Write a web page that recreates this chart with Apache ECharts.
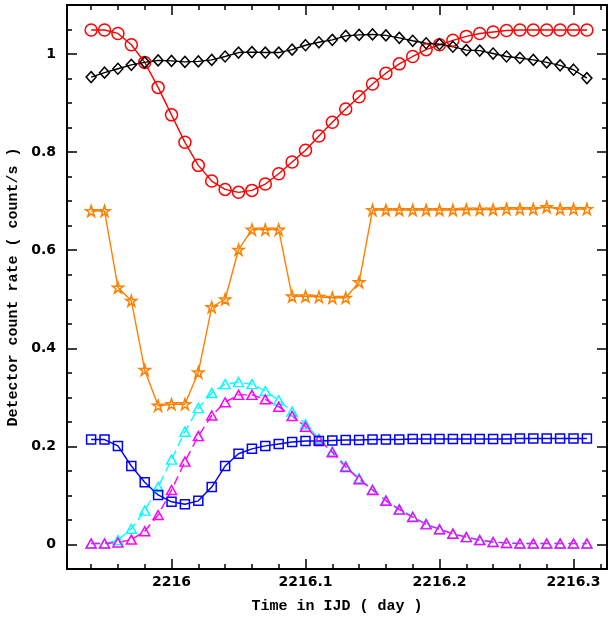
<!DOCTYPE html>
<html>
<head>
<meta charset="utf-8">
<script src="https://cdn.jsdelivr.net/npm/echarts@6/dist/echarts.min.js"></script>
<style>
  html, body { margin: 0; padding: 0; background: #fff; }
  #chart { width: 610px; height: 621px; }
</style>
</head>
<body>
<div id="chart"></div>
<script>
// time axis (IJD), one point every 0.01 day
var times = [2215.94, 2215.95, 2215.96, 2215.97, 2215.98, 2215.99, 2216.00, 2216.01, 2216.02, 2216.03,
             2216.04, 2216.05, 2216.06, 2216.07, 2216.08, 2216.09, 2216.10, 2216.11, 2216.12, 2216.13,
             2216.14, 2216.15, 2216.16, 2216.17, 2216.18, 2216.19, 2216.20, 2216.21, 2216.22, 2216.23,
             2216.24, 2216.25, 2216.26, 2216.27, 2216.28, 2216.29, 2216.30, 2216.31];

var redCircles = [1.049, 1.049, 1.042, 1.019, 0.983, 0.932, 0.876, 0.820, 0.773, 0.741,
                  0.724, 0.718, 0.722, 0.735, 0.756, 0.780, 0.804, 0.833, 0.861, 0.888,
                  0.913, 0.939, 0.961, 0.980, 0.995, 1.009, 1.019, 1.028, 1.036, 1.042,
                  1.045, 1.048, 1.049, 1.049, 1.049, 1.049, 1.049, 1.049];
var blackDiamonds = [0.953, 0.962, 0.970, 0.978, 0.983, 0.987, 0.986, 0.984, 0.985, 0.988,
                     0.995, 1.003, 1.004, 1.003, 1.003, 1.009, 1.018, 1.024, 1.029, 1.037,
                     1.039, 1.040, 1.038, 1.033, 1.027, 1.022, 1.020, 1.015, 1.008, 1.007,
                     1.001, 0.995, 0.992, 0.988, 0.983, 0.977, 0.968, 0.951];
var orangeStars = [0.680, 0.680, 0.524, 0.497, 0.356, 0.283, 0.286, 0.286, 0.351, 0.484,
                   0.500, 0.601, 0.642, 0.642, 0.642, 0.506, 0.506, 0.505, 0.503, 0.503,
                   0.535, 0.682, 0.682, 0.682, 0.682, 0.682, 0.682, 0.682, 0.683, 0.683,
                   0.683, 0.684, 0.684, 0.684, 0.688, 0.684, 0.684, 0.684];
var cyanTriangles = [0.002, 0.002, 0.009, 0.032, 0.069, 0.117, 0.173, 0.230, 0.278, 0.309,
                     0.327, 0.331, 0.327, 0.313, 0.294, 0.271, 0.245, 0.216, 0.190, 0.160,
                     0.135, 0.112, 0.090, 0.072, 0.057, 0.042, 0.031, 0.022, 0.015, 0.009,
                     0.005, 0.003, 0.002, 0.002, 0.002, 0.002, 0.002, 0.002];
var magentaTriangles = [0.002, 0.002, 0.004, 0.010, 0.027, 0.060, 0.111, 0.169, 0.221, 0.263,
                        0.290, 0.305, 0.305, 0.296, 0.281, 0.262, 0.240, 0.213, 0.188, 0.158,
                        0.133, 0.111, 0.089, 0.071, 0.056, 0.041, 0.031, 0.022, 0.015, 0.009,
                        0.005, 0.003, 0.002, 0.002, 0.002, 0.002, 0.002, 0.002];
var blueSquares = [0.214, 0.214, 0.201, 0.160, 0.127, 0.101, 0.087, 0.082, 0.089, 0.117,
                   0.160, 0.185, 0.195, 0.201, 0.205, 0.209, 0.211, 0.211, 0.212, 0.213,
                   0.213, 0.214, 0.214, 0.214, 0.215, 0.215, 0.215, 0.215, 0.215, 0.215,
                   0.215, 0.215, 0.216, 0.216, 0.216, 0.216, 0.216, 0.216];

// tick positions
var xMajor = [2216, 2216.1, 2216.2, 2216.3];
var xMinor = [2215.94, 2215.96, 2215.98, 2216.02, 2216.04, 2216.06, 2216.08, 2216.12, 2216.14,
              2216.16, 2216.18, 2216.22, 2216.24, 2216.26, 2216.28, 2216.32];
var yMajor = [0, 0.2, 0.4, 0.6, 0.8, 1];
var yMinor = [0.05, 0.1, 0.15, 0.25, 0.3, 0.35, 0.45, 0.5, 0.55, 0.65, 0.7, 0.75, 0.85, 0.9, 0.95, 1.05];

var X_MIN = 2215.922, X_MAX = 2216.325, Y_MIN = -0.05, Y_MAX = 1.1;
var starPath = 'path://M50,2 L61,36 L97,36 L68,57 L79,92 L50,70 L21,92 L32,57 L3,36 L39,36 Z';

function pairs(vals) {
  return vals.map(function (v, i) { return [times[i], v]; });
}

function lineSeries(vals, color, symbol, size, dashed) {
  return {
    type: 'line',
    data: pairs(vals),
    symbol: symbol,
    symbolSize: size,
    lineStyle: { color: color, width: 1.4, type: dashed ? [9, 5] : 'solid' },
    itemStyle: { color: 'rgba(0,0,0,0)', borderColor: color, borderWidth: 1.5 },
    emphasis: { disabled: true },
    z: 2
  };
}

function xAxisDef(pos, ticks, len, labels) {
  return {
    type: 'value', position: pos, min: X_MIN, max: X_MAX,
    axisLine: { show: false, onZero: false },
    splitLine: { show: false },
    axisTick: { show: true, inside: true, length: len, customValues: ticks,
                lineStyle: { color: '#000', width: 1.5 } },
    axisLabel: labels ? {
      show: true, customValues: xMajor, margin: 6,
      fontFamily: 'DejaVu Sans', fontWeight: 'bold', fontSize: 14, color: '#000',
      formatter: function (v) { return String(Math.round(v * 10) / 10); }
    } : { show: false }
  };
}

function yAxisDef(pos, ticks, len, labels) {
  return {
    type: 'value', position: pos, min: Y_MIN, max: Y_MAX,
    axisLine: { show: false, onZero: false },
    splitLine: { show: false },
    axisTick: { show: true, inside: true, length: len, customValues: ticks,
                lineStyle: { color: '#000', width: 1.5 } },
    axisLabel: labels ? {
      show: true, customValues: yMajor, margin: 11,
      fontFamily: 'DejaVu Sans', fontWeight: 'bold', fontSize: 14, color: '#000',
      formatter: function (v) { return String(Math.round(v * 10) / 10); }
    } : { show: false }
  };
}

var chart = echarts.init(document.getElementById('chart'));

var titleFont = { fontFamily: 'Liberation Mono', fontWeight: 'bold', fontSize: 15, color: '#000' };

var xMain = xAxisDef('bottom', xMajor, 10, true);
xMain.name = 'Time in IJD ( day )';
xMain.nameLocation = 'middle';
xMain.nameGap = 30;
xMain.nameTextStyle = titleFont;

var yMain = yAxisDef('left', yMajor, 10, true);
yMain.name = 'Detector count rate ( count/s )';
yMain.nameLocation = 'middle';
yMain.nameGap = 40;
yMain.nameTextStyle = titleFont;

chart.setOption({
  animation: false,
  backgroundColor: '#fff',
  grid: { left: 67, right: 3, top: 5, bottom: 52, show: true, outerBoundsMode: 'none',
          containLabel: false,
          borderColor: '#000', borderWidth: 2, backgroundColor: 'transparent' },
  xAxis: [
    xMain,
    xAxisDef('bottom', xMinor, 5, false),
    xAxisDef('top', xMajor, 10, false),
    xAxisDef('top', xMinor, 5, false)
  ],
  yAxis: [
    yMain,
    yAxisDef('left', yMinor, 5, false),
    yAxisDef('right', yMajor, 10, false),
    yAxisDef('right', yMinor, 5, false)
  ],
  series: [
    lineSeries(redCircles, '#ff0000', 'circle', 12, false),
    lineSeries(blackDiamonds, '#000000', 'diamond', [10, 11], false),
    lineSeries(orangeStars, '#ff8000', starPath, 11, false),
    lineSeries(cyanTriangles, '#00ffff', 'triangle', [10, 9], true),
    lineSeries(magentaTriangles, '#ff00ff', 'triangle', [10, 9], true),
    lineSeries(blueSquares, '#0000ff', 'rect', 9, false)
  ]
});
</script>
</body>
</html>
